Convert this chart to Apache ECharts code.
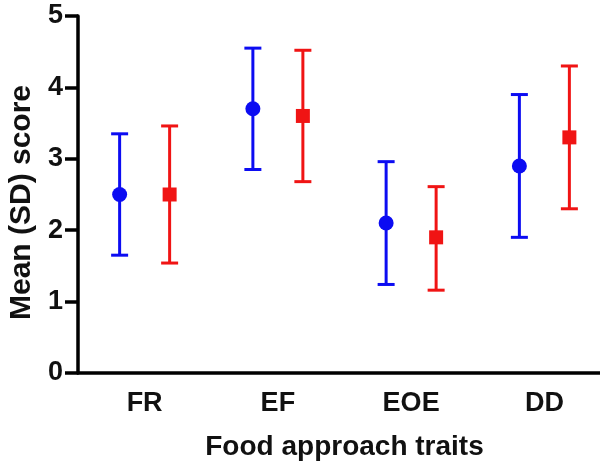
<!DOCTYPE html>
<html>
<head>
<meta charset="utf-8">
<script src="https://cdn.jsdelivr.net/npm/echarts@6/dist/echarts.min.js"></script>
<style>html,body{margin:0;padding:0;background:#fff;}#c{width:600px;height:472px;}</style>
</head>
<body>
<div id="c"></div>
<script>
const categories = ['FR', 'EF', 'EOE', 'DD'];
const blueMean = [2.5, 3.7, 2.1, 2.9];
const blueLow  = [1.65, 2.85, 1.24, 1.9];
const blueHigh = [3.35, 4.55, 2.96, 3.9];
const redMean  = [2.5, 3.6, 1.9, 3.3];
const redLow   = [1.54, 2.68, 1.16, 2.3];
const redHigh  = [3.46, 4.52, 2.61, 4.3];
const yTicks = [0, 1, 2, 3, 4, 5];

const BLUE = '#0c0cf2';
const RED = '#f01414';
const FONT = 'Liberation Sans';

function makeData(mean, low, high) {
  return categories.map((c, i) => [i, mean[i], low[i], high[i]]);
}

function makeRender(offset, color, shape) {
  return function (params, api) {
    const idx = api.value(0);
    const x = api.coord([idx, 0])[0] + offset;
    const yM = api.coord([idx, api.value(1)])[1];
    const yL = api.coord([idx, api.value(2)])[1];
    const yH = api.coord([idx, api.value(3)])[1];
    const capW = 8.5;
    const ls = { stroke: color, lineWidth: 3 };
    const children = [
      { type: 'line', shape: { x1: x, y1: yL, x2: x, y2: yH }, style: ls },
      { type: 'line', shape: { x1: x - capW, y1: yH, x2: x + capW, y2: yH }, style: ls },
      { type: 'line', shape: { x1: x - capW, y1: yL, x2: x + capW, y2: yL }, style: ls }
    ];
    if (shape === 'circle') {
      children.push({ type: 'circle', shape: { cx: x, cy: yM, r: 7.5 }, style: { fill: color } });
    } else {
      children.push({ type: 'rect', shape: { x: x - 7, y: yM - 7, width: 14, height: 14 }, style: { fill: color } });
    }
    return { type: 'group', children: children };
  };
}

const chart = echarts.init(document.getElementById('c'), null, { renderer: 'canvas' });
chart.setOption({
  animation: false,
  backgroundColor: '#fff',
  grid: { left: 78, top: 16, width: 533, height: 357, containLabel: false, outerBoundsMode: 'none' },
  xAxis: {
    type: 'category',
    data: categories,
    boundaryGap: true,
    name: 'Food approach traits',
    nameLocation: 'middle',
    nameGap: 60,
    nameTextStyle: { fontFamily: FONT, fontWeight: 'bold', fontSize: 28, color: '#111' },
    axisLine: { lineStyle: { color: '#000', width: 3.5 } },
    axisTick: { alignWithLabel: true, length: 10, lineStyle: { color: '#000', width: 3.5 } },
    axisLabel: { fontFamily: FONT, fontWeight: 'bold', fontSize: 27, color: '#111', margin: 17 },
    splitLine: { show: false }
  },
  yAxis: {
    type: 'value',
    min: yTicks[0],
    max: yTicks[yTicks.length - 1],
    interval: 1,
    name: 'Mean (SD) score',
    nameLocation: 'middle',
    nameGap: 40,
    nameTextStyle: { fontFamily: FONT, fontWeight: 'bold', fontSize: 30, color: '#111', padding: [0, 16, 0, 0] },
    axisLine: { show: true, lineStyle: { color: '#000', width: 3.5 } },
    axisTick: { show: true, length: 13, lineStyle: { color: '#000', width: 3.5 } },
    axisLabel: { fontFamily: FONT, fontWeight: 'bold', fontSize: 27, color: '#111', margin: 15 },
    splitLine: { show: false }
  },
  series: [
    {
      type: 'custom',
      name: 'blue',
      renderItem: makeRender(-25, BLUE, 'circle'),
      encode: { x: 0, y: [1, 2, 3] },
      data: makeData(blueMean, blueLow, blueHigh),
      z: 3
    },
    {
      type: 'custom',
      name: 'red',
      renderItem: makeRender(25, RED, 'rect'),
      encode: { x: 0, y: [1, 2, 3] },
      data: makeData(redMean, redLow, redHigh),
      z: 3
    }
  ]
});
</script>
</body>
</html>
